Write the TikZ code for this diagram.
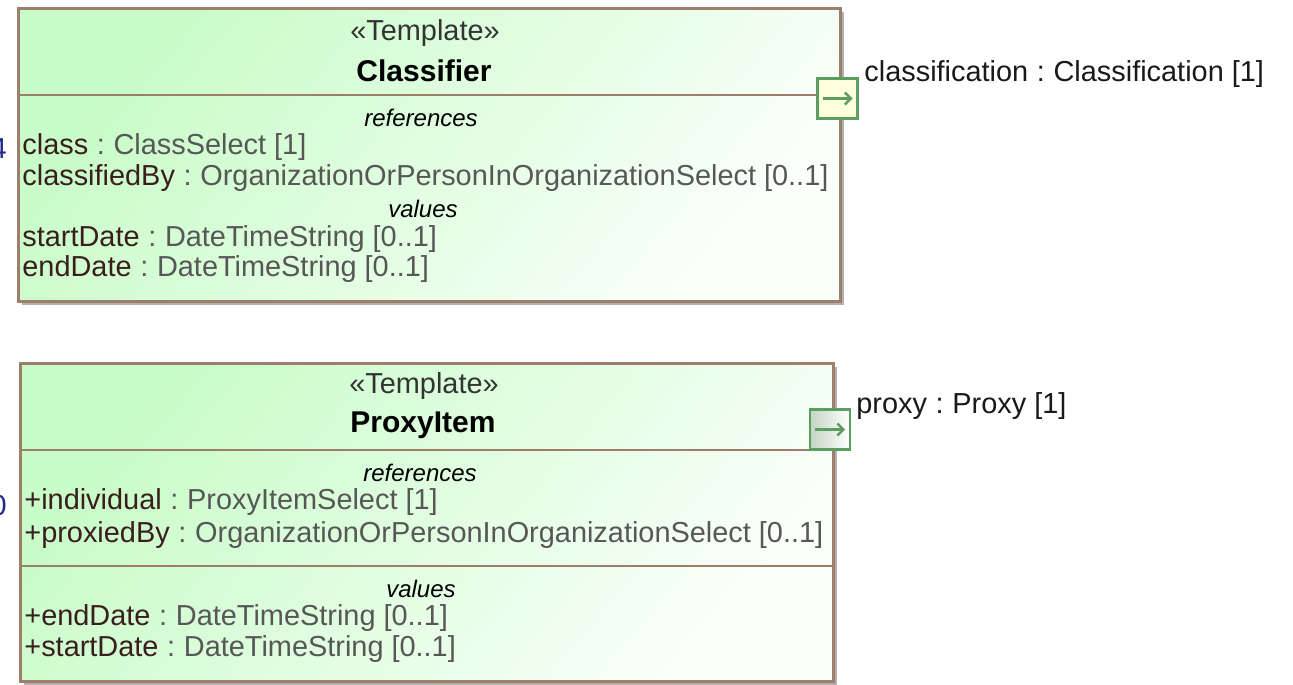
\documentclass[tikz,border=0pt]{standalone}
\usepackage{fontspec}
\setmainfont{Liberation Sans}
\usetikzlibrary{arrows.meta}
\definecolor{bordc}{HTML}{9C7E6A}
\definecolor{fillA}{HTML}{C8FCC8}
\definecolor{fillB}{HTML}{FAFFFA}
\definecolor{namec}{HTML}{3A1E1E}
\definecolor{typec}{HTML}{575757}
\definecolor{portc}{HTML}{5C9E62}
\definecolor{porty}{HTML}{FFFFDC}
\definecolor{portg}{HTML}{C4D6C4}
\definecolor{shadc}{HTML}{B0B0B0}
\definecolor{stubc}{HTML}{1F2A8A}
\tikzset{
  umlbox/.style={draw=bordc, line width=1.3pt, top color=fillA, bottom color=fillB,
    shading angle=50, anchor=north west, inner sep=0pt},
  shadowbox/.style={fill=shadc, draw=none, anchor=north west, inner sep=0pt},
  sep/.style={draw=bordc, line width=1.3pt},
  txt/.style={inner sep=0pt, font=\fontsize{14.45}{17}\selectfont},
  attr/.style={txt, anchor=west},
  stereo/.style={txt, text=black!80},
  title/.style={inner sep=0pt, font=\fontsize{15}{17}\selectfont\bfseries},
  section/.style={inner sep=0pt, font=\fontsize{12}{14}\selectfont\itshape},
  portbox/.style={draw=portc, line width=1.2pt, minimum size=20pt, inner sep=0pt},
  portarrow/.style={draw=portc, line width=1.2pt, -{Straight Barb[length=3pt,width=6pt]}},
  stub/.style={txt, text=stubc, anchor=east},
}
\newcommand{\nm}[1]{\textcolor{namec}{#1}}
\newcommand{\ty}[1]{\textcolor{typec}{#1}}
\newcommand{\cl}{\hspace{0.3em}\textcolor{typec}{:}\hspace{0.3em}}
\begin{document}
\begin{tikzpicture}[x=0.5pt, y=-0.5pt]
\useasboundingbox (0,0) rectangle (1293,684);
% ---------- Classifier ----------
\node[shadowbox, minimum width=411pt, minimum height=146.5pt] (sh1) at (22,12) {};
\node[umlbox, minimum width=411pt, minimum height=146.5pt] (c1) at (17,7) {};
\draw[sep] (c1.west |- 0,95) -- (c1.east |- 0,95);
\node[stereo] (c1s) at (425,33) {«Template»};
\node[title] (c1t) at (424,71) {Classifier};
\node[section] (c1r) at (421,118) {references};
\node[attr] (c1a1) at (22,147) {\nm{class}\cl\ty{ClassSelect [1]}};
\node[attr] (c1a2) at (22,178) {\nm{classifiedBy}\cl\ty{OrganizationOrPersonInOrganizationSelect [0..1]}};
\node[section] (c1v) at (423,209) {values};
\node[attr] (c1a3) at (22,239) {\nm{startDate}\cl\ty{DateTimeString [0..1]}};
\node[attr] (c1a4) at (22,269) {\nm{endDate}\cl\ty{DateTimeString [0..1]}};
\node[portbox, fill=porty] (p1) at (837.5,98.5) {};
\draw[portarrow] ([xshift=-7.5pt]p1.center) -- ([xshift=7.5pt]p1.center);
\node[attr, text=black!90] (p1l) at (864,74) {classification\hspace{0.3em}:\hspace{0.3em}Classification [1]};
\node[stub] (s1) at (7,149) {4};
% ---------- ProxyItem ----------
\node[shadowbox, minimum width=406.5pt, minimum height=159pt] (sh2) at (24,367) {};
\node[umlbox, minimum width=406.5pt, minimum height=159pt] (c2) at (19,362) {};
\draw[sep] (c2.west |- 0,450) -- (c2.east |- 0,450);
\draw[sep] (c2.west |- 0,566) -- (c2.east |- 0,566);
\node[stereo] (c2s) at (424,386) {«Template»};
\node[title] (c2t) at (423,425) {ProxyItem};
\node[section] (c2r) at (420,473) {references};
\node[attr] (c2a1) at (24,502) {\nm{+individual}\cl\ty{ProxyItemSelect [1]}};
\node[attr] (c2a2) at (24,535) {\nm{+proxiedBy}\cl\ty{OrganizationOrPersonInOrganizationSelect [0..1]}};
\node[section] (c2v) at (421,589) {values};
\node[attr] (c2a3) at (24,618) {\nm{+endDate}\cl\ty{DateTimeString [0..1]}};
\node[attr] (c2a4) at (24,649) {\nm{+startDate}\cl\ty{DateTimeString [0..1]}};
\node[portbox, left color=portg, right color=white] (p2) at (830,429.5) {};
\draw[portarrow] ([xshift=-7.5pt]p2.center) -- ([xshift=7.5pt]p2.center);
\node[attr, text=black!90] (p2l) at (856,406) {proxy\hspace{0.3em}:\hspace{0.3em}Proxy [1]};
\node[stub] (s2) at (7,506) {0};
\end{tikzpicture}
\end{document}
